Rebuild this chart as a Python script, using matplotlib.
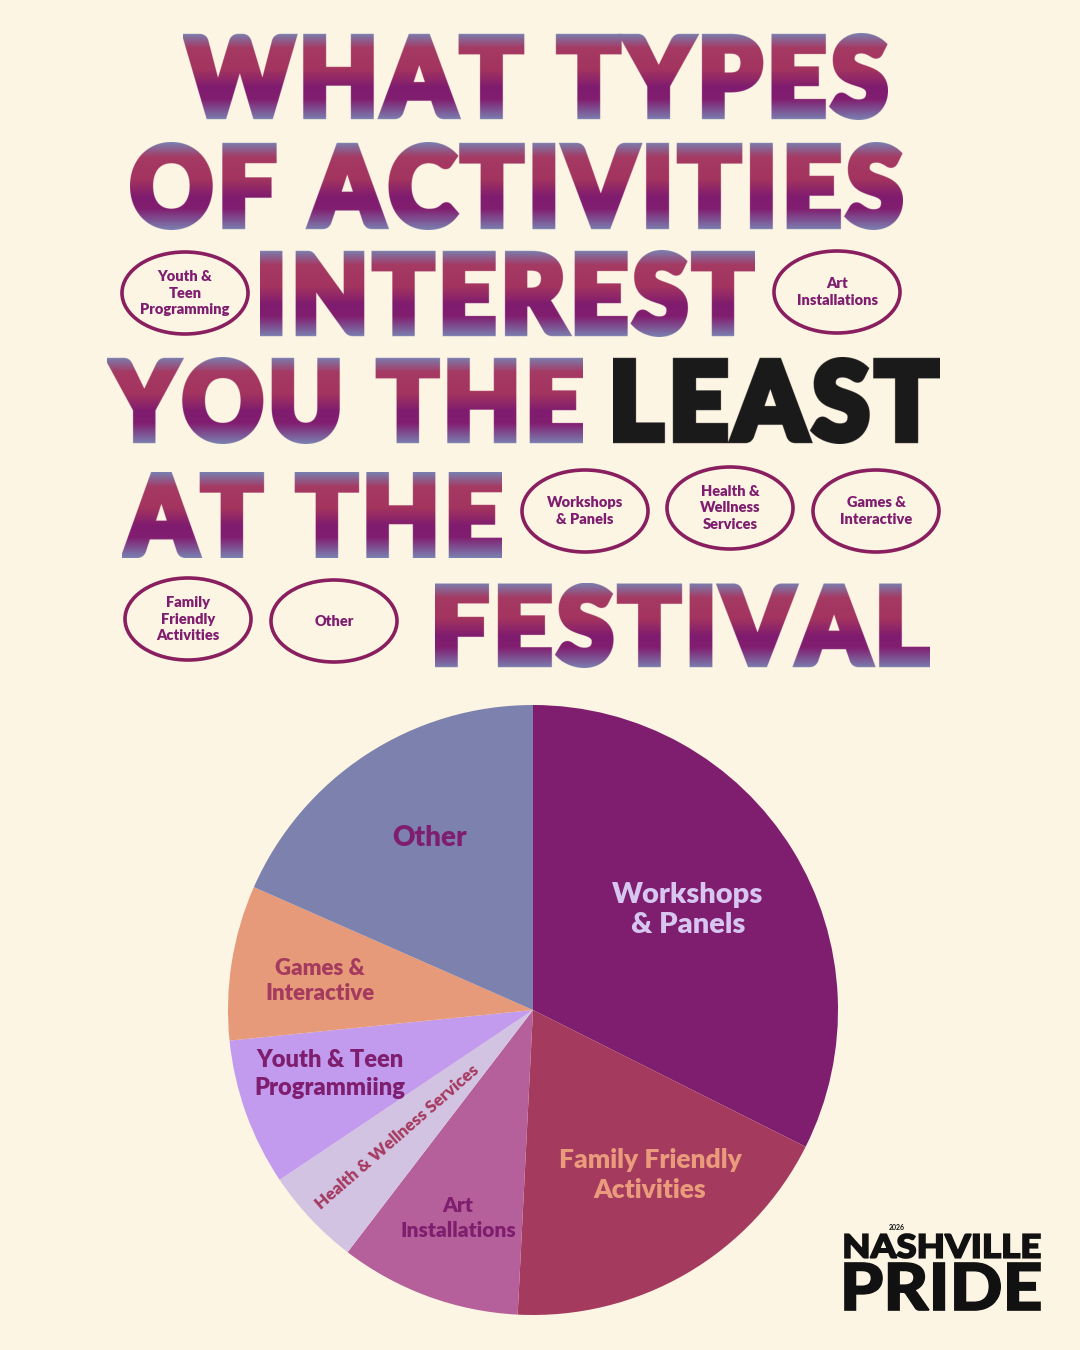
import numpy as np
import matplotlib
matplotlib.use("Agg")
from matplotlib import pyplot as plt
from matplotlib.figure import Figure
from matplotlib.backends.backend_agg import FigureCanvasAgg
from matplotlib.textpath import TextPath
from matplotlib.path import Path
from matplotlib.font_manager import FontProperties
from matplotlib.patches import PathPatch, Ellipse
from matplotlib.transforms import Affine2D
from matplotlib.colors import LinearSegmentedColormap, to_rgba

# pie data, clockwise from 12 o'clock (percent)
categories = ["Workshops & Panels", "Family Friendly Activities",
              "Art Installations", "Health & Wellness Services",
              "Youth & Teen Programming", "Games & Interactive", "Other"]
shares = [32.4, 18.4, 9.6, 5.2, 7.8, 8.2, 18.4]
slice_colors = ["#7f1d6e", "#a53a5f", "#b5609b", "#d3c3e2",
                "#c29bef", "#e79a79", "#7c82ad"]
slice_labels = ["Workshops\n& Panels", "Family Friendly\nActivities",
                "Art\nInstallations", "Health & Wellness Services",
                "Youth & Teen\nProgrammiing", "Games &\nInteractive", "Other"]
label_colors = ["#d6c6f0", "#e99b7b", "#7f1d6e", "#a53a5f",
                "#7f1d6e", "#a53a5f", "#7f1d6e"]

# bubbles around the title
bubble_labels = ["Youth &\nTeen\nProgramming", "Art\nInstallations",
                 "Workshops\n& Panels", "Health &\nWellness\nServices",
                 "Games &\nInteractive", "Family\nFriendly\nActivities",
                 "Other"]

title_words = ["WHAT TYPES", "OF ACTIVITIES", "INTEREST", "YOU THE",
               "LEAST", "AT THE", "FESTIVAL"]

BG = "#fdf5e4"
PURPLE = "#7f1d6e"

# layout (pixel boxes, y down)
title_boxes = [(183, 33, 888, 120), (130, 142, 903, 230),
               (260, 250, 755, 337), (107, 357, 583, 444),
               (613, 357, 940, 444), (122, 472, 502, 558),
               (435, 583, 930, 668)]
bubble_pos = [(185, 293), (837, 292), (585, 511), (730, 508),
              (876, 511), (188, 619), (334, 621)]
# x, y, fontsize, rotation, linespacing
label_pos = [(688, 910, 21, 0, 1.2), (650, 1175, 19, 0, 1.3),
             (458, 1218, 15, 0, 1.35), (397, 1137, 12.3, 41, 1.0),
             (330, 1074, 17, 0, 1.3), (320, 981, 16, 0, 1.18),
             (430, 838, 20, 0, 1.0)]

heavy = ["Lato", "Roboto", "DejaVu Sans"]
title_font = FontProperties(family=heavy, weight="black")
label_font = heavy

grad_cmap = LinearSegmentedColormap.from_list(
    "title", [(0.0, "#7a7fb0"), (0.17, "#a53a63"), (0.42, "#a3345f"),
              (0.62, "#801c6f"), (0.76, "#821e70"), (1.0, "#7a80b0")])

fig = plt.figure(figsize=(10.8, 13.5), dpi=100, facecolor=BG)

# pie first, everything else on an overlay axes
cx, cy, r = 533, 1010, 305
pax = fig.add_axes([(cx - r) / 1080, (1350 - cy - r) / 1350,
                    2 * r / 1080, 2 * r / 1350])
pax.pie(shares, colors=slice_colors, startangle=90, counterclock=False,
        radius=1, wedgeprops={"linewidth": 0})
pax.set_xlim(-1, 1)
pax.set_ylim(-1, 1)
pax.axis("off")

ax = fig.add_axes([0, 0, 1, 1])
ax.patch.set_visible(False)
ax.set_xlim(0, 1080)
ax.set_ylim(1350, 0)
ax.axis("off")


def tracked_path(text, font, track):
    # glyph by glyph so extra letter spacing can be added
    verts, codes = [], []
    for i, ch in enumerate(text):
        if ch == " ":
            continue
        right = TextPath((0, 0), text[:i + 1], size=100,
                         prop=font).get_extents().x1
        own = TextPath((0, 0), ch, size=100, prop=font).get_extents().x1
        p = TextPath((right - own + track * i, 0), ch, size=100, prop=font)
        verts.append(p.vertices)
        codes.append(p.codes)
    return Path(np.concatenate(verts), np.concatenate(codes))


def word_path(text, box, font, track=0):
    x0, y0, x1, y1 = box
    tp = tracked_path(text, font, track)
    ext = tp.get_extents()
    tr = (Affine2D().translate(-ext.x0, -ext.y1)
          .scale((x1 - x0) / ext.width, -(y1 - y0) / ext.height)
          .translate(x0, y0))
    return tr.transform_path(tp)


def glyph_mask(text, box, font, grow, track, ss=3):
    # render the word fattened by `grow` px into an offscreen alpha mask
    x0, y0, x1, y1 = box
    w, h = x1 - x0, y1 - y0
    f = Figure(figsize=(w * ss / 100, h * ss / 100), dpi=100)
    FigureCanvasAgg(f)
    a = f.add_axes([0, 0, 1, 1])
    a.set_xlim(0, w)
    a.set_ylim(h, 0)
    a.axis("off")
    path = word_path(text, (grow, grow, w - grow, h - grow), font, track)
    a.add_patch(PathPatch(path, facecolor="k", edgecolor="k",
                          lw=2 * grow * ss * 72 / 100, joinstyle="miter"))
    f.canvas.draw()
    rgba = np.asarray(f.canvas.buffer_rgba()).astype(float)
    return 1 - rgba[..., 0] / 255.0


def draw_word(text, box, solid=None, grow=3.8, track=6):
    x0, y0, x1, y1 = box
    mask = glyph_mask(text, box, title_font, grow, track)
    hh, ww = mask.shape
    if solid is None:
        cols = grad_cmap(np.linspace(0, 1, hh))[:, None, :]
    else:
        cols = np.array(to_rgba(solid))[None, None, :]
    img = np.broadcast_to(cols, (hh, ww, 4)).copy()
    img[..., 3] = mask
    ax.imshow(img, extent=(x0, x1, y1, y0), aspect="auto",
              interpolation="antialiased", zorder=3)


for word, box in zip(title_words, title_boxes):
    draw_word(word, box, solid="#1c1a1b" if word == "LEAST" else None)
ax.set_xlim(0, 1080)
ax.set_ylim(1350, 0)

for text, (bx, by) in zip(bubble_labels, bubble_pos):
    ax.add_patch(Ellipse((bx, by), 126, 82, facecolor="none",
                         edgecolor="#8a1f5f", lw=2.6, zorder=3))
    ax.text(bx, by, text, ha="center", va="center", fontsize=10.5,
            fontweight="heavy", color=PURPLE, family=label_font,
            linespacing=1.3, zorder=4)

for text, color, (lx, ly, fs, rot, ls) in zip(slice_labels, label_colors,
                                              label_pos):
    ax.text(lx, ly, text, ha="center", va="center", fontsize=fs,
            fontweight="heavy", color=color, family=label_font,
            rotation=rot, rotation_mode="anchor", linespacing=ls,
            zorder=5)

# logo
logo_font = FontProperties(family=heavy, weight="black")
for text, box in [("NASHVILLE", (845, 1234, 1040, 1258)),
                  ("PRIDE", (845, 1263, 1040, 1310))]:
    ax.add_patch(PathPatch(word_path(text, box, logo_font),
                           facecolor="#111111", edgecolor="#111111",
                           lw=1.2, zorder=3))
ax.text(897, 1231, "2026", ha="center", va="bottom", fontsize=5,
        fontweight="bold", color="#111111", family=label_font)

fig.savefig("out.png", dpi=100, facecolor=BG)
